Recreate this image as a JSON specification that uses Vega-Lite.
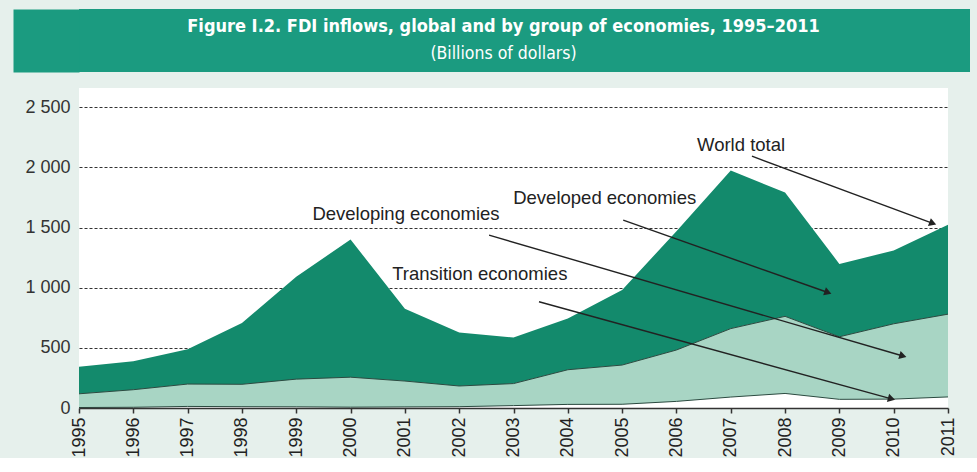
{
  "$schema": "https://vega.github.io/schema/vega-lite/v6.json",
  "background": "#e6f0ec",
  "padding": {"left": 13, "top": 9, "right": 7, "bottom": 0},
  "config": {"view": {"stroke": null}, "font": "Liberation Sans"},
  "datasets": {
    "fdi": [
      {"year": 1995, "series": "Transition", "value": 4},
      {"year": 1996, "series": "Transition", "value": 6},
      {"year": 1997, "series": "Transition", "value": 13},
      {"year": 1998, "series": "Transition", "value": 11},
      {"year": 1999, "series": "Transition", "value": 10},
      {"year": 2000, "series": "Transition", "value": 7},
      {"year": 2001, "series": "Transition", "value": 9},
      {"year": 2002, "series": "Transition", "value": 11},
      {"year": 2003, "series": "Transition", "value": 20},
      {"year": 2004, "series": "Transition", "value": 30},
      {"year": 2005, "series": "Transition", "value": 31},
      {"year": 2006, "series": "Transition", "value": 55},
      {"year": 2007, "series": "Transition", "value": 91},
      {"year": 2008, "series": "Transition", "value": 121},
      {"year": 2009, "series": "Transition", "value": 72},
      {"year": 2010, "series": "Transition", "value": 74},
      {"year": 2011, "series": "Transition", "value": 92},
      {"year": 1995, "series": "Developing", "value": 114},
      {"year": 1996, "series": "Developing", "value": 146},
      {"year": 1997, "series": "Developing", "value": 186},
      {"year": 1998, "series": "Developing", "value": 186},
      {"year": 1999, "series": "Developing", "value": 230},
      {"year": 2000, "series": "Developing", "value": 249},
      {"year": 2001, "series": "Developing", "value": 215},
      {"year": 2002, "series": "Developing", "value": 172},
      {"year": 2003, "series": "Developing", "value": 183},
      {"year": 2004, "series": "Developing", "value": 288},
      {"year": 2005, "series": "Developing", "value": 326},
      {"year": 2006, "series": "Developing", "value": 427},
      {"year": 2007, "series": "Developing", "value": 569},
      {"year": 2008, "series": "Developing", "value": 641},
      {"year": 2009, "series": "Developing", "value": 520},
      {"year": 2010, "series": "Developing", "value": 626},
      {"year": 2011, "series": "Developing", "value": 688},
      {"year": 1995, "series": "Developed", "value": 224},
      {"year": 1996, "series": "Developed", "value": 237},
      {"year": 1997, "series": "Developed", "value": 289},
      {"year": 1998, "series": "Developed", "value": 509},
      {"year": 1999, "series": "Developed", "value": 852},
      {"year": 2000, "series": "Developed", "value": 1144},
      {"year": 2001, "series": "Developed", "value": 602},
      {"year": 2002, "series": "Developed", "value": 444},
      {"year": 2003, "series": "Developed", "value": 383},
      {"year": 2004, "series": "Developed", "value": 426},
      {"year": 2005, "series": "Developed", "value": 623},
      {"year": 2006, "series": "Developed", "value": 988},
      {"year": 2007, "series": "Developed", "value": 1315},
      {"year": 2008, "series": "Developed", "value": 1029},
      {"year": 2009, "series": "Developed", "value": 606},
      {"year": 2010, "series": "Developed", "value": 609},
      {"year": 2011, "series": "Developed", "value": 744}
    ],
    "notes": [
      {"label": "World total", "yr": 2007.19, "val": 2183},
      {"label": "Developed economies", "yr": 2004.68, "val": 1747},
      {"label": "Developing economies", "yr": 2001.02, "val": 1611},
      {"label": "Transition economies", "yr": 2002.38, "val": 1113}
    ],
    "arrows": [
      {"name": "World total", "yr": 2007.39, "val": 2093, "yr2": 2010.72, "val2": 1535, "ang": 20.5},
      {"name": "Developed", "yr": 2005.02, "val": 1561, "yr2": 2008.79, "val2": 960, "ang": 19.5},
      {"name": "Developing", "yr": 2002.55, "val": 1437, "yr2": 2010.17, "val2": 432, "ang": 16.3},
      {"name": "Transition", "yr": 2003.47, "val": 883, "yr2": 2009.96, "val2": 76, "ang": 15.4}
    ],
    "banner": [
      {"line": 1, "text": "Figure I.2. FDI inflows, global and by group of economies, 1995–2011"},
      {"line": 2, "text": "(Billions of dollars)"}
    ]
  },
  "vconcat": [
    {
      "width": 891,
      "height": 63,
      "view": {"fill": "#1b9b80", "stroke": null},
      "data": {"name": "banner"},
      "encoding": {
        "y": {
          "field": "line", "type": "ordinal",
          "scale": {"padding": 0.67},
          "axis": {"title": null, "labels": false, "ticks": false, "domain": true, "domainColor": "#1b9b80", "domainWidth": 66, "domainCap": "butt", "offset": 33, "grid": false}
        },
        "text": {"field": "text"}
      },
      "layer": [
        {
          "transform": [{"filter": "datum.line === 1"}],
          "mark": {"type": "text", "font": "DejaVu Sans Condensed, Liberation Sans Narrow, sans-serif", "fontWeight": "bold", "fontSize": 18, "color": "white", "align": "center", "baseline": "middle", "dx": -21}
        },
        {
          "transform": [{"filter": "datum.line === 2"}],
          "mark": {"type": "text", "font": "DejaVu Sans Condensed, Liberation Sans Narrow, sans-serif", "fontSize": 17.5, "color": "white", "align": "center", "baseline": "middle", "dx": -21}
        }
      ]
    },
    {
      "width": 869,
      "height": 320,
      "view": {"fill": "white", "stroke": null},
      "layer": [
        {
          "data": {"name": "fdi"},
          "transform": [
            {"stack": "value", "groupby": ["year"], "sort": [{"field": "series", "order": "descending"}], "as": ["v0", "v1"]}
          ],
          "layer": [
            {
              "mark": {"type": "area", "opacity": 1},
              "encoding": {
                "x": {
                  "field": "year", "type": "quantitative",
                  "scale": {"domain": [1995, 2011], "nice": false, "zero": false},
                  "axis": {
                    "title": null, "grid": false, "zindex": 1,
                    "values": [1995, 1996, 1997, 1998, 1999, 2000, 2001, 2002, 2003, 2004, 2005, 2006, 2007, 2008, 2009, 2010, 2011],
                    "format": "d", "labelAngle": 270, "labelAlign": "right", "labelBaseline": "middle",
                    "labelFontSize": 18, "labelColor": "#222", "labelPadding": 4,
                    "domainColor": "#333", "domainWidth": 1.5, "tickColor": "#333", "tickWidth": 1.5, "tickSize": 5
                  }
                },
                "y": {
                  "field": "v1", "type": "quantitative",
                  "scale": {"domain": [0, 2660], "nice": false},
                  "axis": {
                    "title": null, "values": [0, 500, 1000, 1500, 2000, 2500],
                    "labelExpr": "replace(format(datum.value, ','), ',', ' ')",
                    "labelFontSize": 18, "labelColor": "#333", "labelPadding": 9,
                    "ticks": false, "domain": false, "minExtent": 66,
                    "grid": true, "gridDash": [3, 2], "gridColor": "#333", "gridWidth": 1.2, "gridOpacity": 1
                  }
                },
                "y2": {"field": "v0"},
                "color": {
                  "field": "series", "type": "nominal", "legend": null,
                  "scale": {"domain": ["Developed", "Developing", "Transition"], "range": ["#138a6c", "#a8d5c4", "#ffffff"]}
                }
              }
            },
            {
              "transform": [{"filter": "datum.series !== 'Developed'"}],
              "mark": {"type": "line", "color": "#2b4a40", "strokeWidth": 1},
              "encoding": {
                "x": {"field": "year", "type": "quantitative"},
                "y": {"field": "v1", "type": "quantitative"},
                "detail": {"field": "series"}
              }
            }
          ]
        },
        {
          "data": {"name": "arrows"},
          "mark": {"type": "rule", "color": "#222", "strokeWidth": 1.4},
          "encoding": {
            "x": {"field": "yr", "type": "quantitative"},
            "y": {"field": "val", "type": "quantitative"},
            "x2": {"field": "yr2"},
            "y2": {"field": "val2"}
          }
        },
        {
          "data": {"name": "arrows"},
          "mark": {"type": "point", "shape": "triangle-right", "filled": true, "color": "#222", "size": 70, "opacity": 1},
          "encoding": {
            "x": {"field": "yr2", "type": "quantitative"},
            "y": {"field": "val2", "type": "quantitative"},
            "angle": {"field": "ang", "type": "quantitative", "scale": null}
          }
        },
        {
          "data": {"name": "notes"},
          "mark": {"type": "text", "fontSize": 18.5, "color": "#222", "align": "center", "baseline": "middle"},
          "encoding": {
            "x": {"field": "yr", "type": "quantitative"},
            "y": {"field": "val", "type": "quantitative"},
            "text": {"field": "label"}
          }
        }
      ]
    }
  ],
  "spacing": 16
}
